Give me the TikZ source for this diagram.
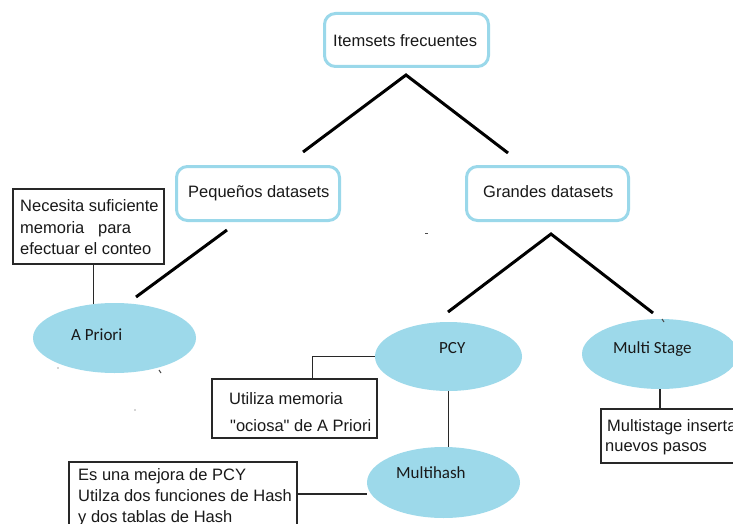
\documentclass[tikz,border=0pt]{standalone}
\usepackage{fontspec}
\setmainfont{Liberation Sans}[Ligatures=TeXOff]
\newfontfamily\calfont{Carlito}
\usetikzlibrary{shapes.geometric,calc}
\definecolor{skyline}{RGB}{154,216,234}
\definecolor{skyfill}{RGB}{157,217,234}
\definecolor{inkgray}{RGB}{40,40,40}
\begin{document}
\begin{tikzpicture}[x=1pt,y=-1pt,
  topic/.style={draw=skyline, line width=3pt, rounded corners=11pt, fill=white, inner sep=0},
  algo/.style={ellipse, fill=skyfill, draw=none, inner sep=0},
  memo/.style={draw=inkgray, line width=1.1pt, fill=white, inner sep=0},
  lbl/.style={inner sep=0, anchor=base west, font=\fontsize{16.5}{20}\selectfont, text=black!90},
  algolbl/.style={inner sep=0, anchor=base west, font=\calfont\fontsize{17}{20}\selectfont, text=black!90},
  tree/.style={line width=3pt, line join=miter, black},
  wire/.style={line width=1.1pt, inkgray},
  speck/.style={line width=1pt, black!70}
]
\clip (0,0) rectangle (733,524);
\fill[white] (0,0) rectangle (733,524);

% category boxes
\node[topic, minimum width=164pt, minimum height=53pt] (root) at (406.5,40) {};
\node[topic, minimum width=163pt, minimum height=54pt] (peq) at (258,193.5) {};
\node[topic, minimum width=162pt, minimum height=54pt] (gra) at (547.5,193.5) {};
\node[lbl] (rootT) at (333,47) {Itemsets frecuentes};
\node[lbl] (peqT) at (188,197) {Pequeños datasets};
\node[lbl] (graT) at (483,197) {Grandes datasets};

% algorithms
\node[algo, minimum width=163pt, minimum height=70pt] (apr) at (114.5,338) {};
\node[algo, minimum width=147pt, minimum height=69pt] (pcy) at (448.5,356.5) {};
\node[algo, minimum width=153pt, minimum height=71pt] (mh) at (443.5,482.5) {};
\node[algo, minimum width=156pt, minimum height=70pt] (ms) at (660,354) {};
\node[algolbl] (aprT) at (71,340) {A Priori};
\node[algolbl] (pcyT) at (439,353) {PCY};
\node[algolbl] (mhT) at (396,478) {Multihash};
\node[algolbl] (msT) at (613,353) {Multi Stage};

% notes
\node[memo, minimum width=151pt, minimum height=75pt] (nec) at (88.5,226.5) {};
\node[memo, minimum width=165pt, minimum height=59pt] (uti) at (294.5,408.5) {};
\node[memo, minimum width=228pt, minimum height=64pt] (es) at (183,494) {};
\node[memo, minimum width=169pt, minimum height=54pt] (mbx) at (685.5,436) {};

\node[lbl] (nec1) at (20,211) {Necesita suficiente};
\node[lbl] (nec2) at (20,233) {memoria\ \ \ para};
\node[lbl] (nec3) at (20,254) {efectuar el conteo};
\node[lbl] (uti1) at (229,404) {Utiliza memoria};
\node[lbl] (uti2) at (230,431) {"ociosa" de A Priori};
\node[lbl] (es1) at (78,480) {Es una mejora de PCY};
\node[lbl] (es2) at (78,501) {Utilza dos funciones de Hash};
\node[lbl] (es3) at (78,522) {y dos tablas de Hash};
\node[lbl] (mb1) at (607,431) {Multistage inserta};
\node[lbl] (mb2) at (605,451) {nuevos pasos};

% tree branches
\coordinate (r0) at (406,75);
\coordinate (r1) at (303,152);
\coordinate (r2) at (508,153);
\draw[tree] (r1) -- (r0) -- (r2);
\coordinate (p0) at (227,230);
\coordinate (p1) at (136,297);
\draw[tree] (p0) -- (p1);
\coordinate (g0) at (551,234);
\coordinate (g1) at (448,312);
\coordinate (g2) at (653,313);
\draw[tree] (g1) -- (g0) -- (g2);

% note connectors
\draw[wire] (apr.122.5) -- (apr.122.5 |- nec.south);
\draw[wire] (pcy.west) -| ($(uti.north west)+(101,0)$);
\draw[wire] (pcy.south) -- (pcy.south |- mh.north);
\draw[wire] (es.east) -- (es.east -| mh.west);
\draw[wire] (ms.south) -- (ms.south |- mbx.north);

% stray marks
\fill[black!70] (58,368) circle (0.7pt);
\fill[black!70] (135,410) circle (0.7pt);
\draw[speck] (159,370) -- (161,373);
\draw[speck] (425,233) -- (428,233);
\draw[speck] (662,319) -- (664,322);
\end{tikzpicture}
\end{document}
